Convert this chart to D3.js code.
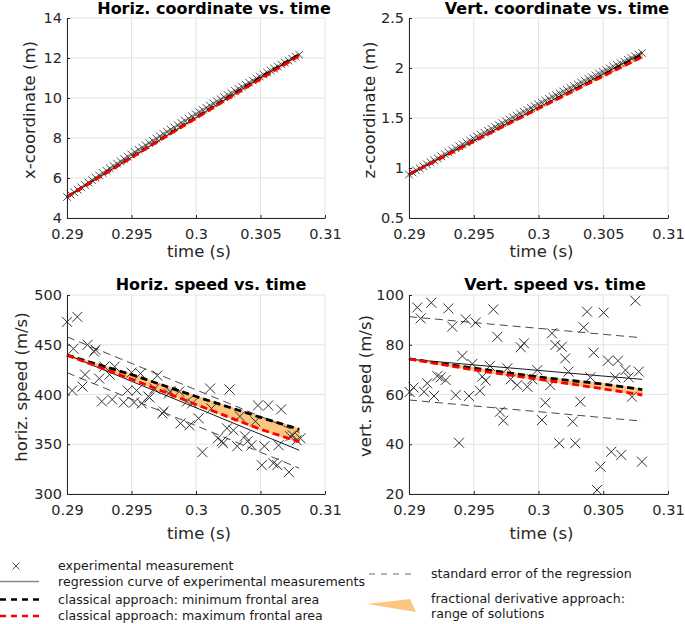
<!DOCTYPE html>
<html>
<head>
<meta charset="utf-8">
<script src="https://cdn.jsdelivr.net/npm/d3@7"></script>
<style>
body { margin: 0; background: #fff; }
text { font-family: "DejaVu Sans", sans-serif; fill: #262626; }
</style>
</head>
<body>
<div id="chart"></div>
<script>
// ---- data ----
var xTicks = [0.29, 0.295, 0.3, 0.305, 0.31];
var xTickLabels = ["0.29", "0.295", "0.3", "0.305", "0.31"];

// frame times of the tracked positions
var coordTime = [0.29000,0.29028,0.29055,0.29083,0.29111,0.29138,0.29166,0.29194,0.29222,0.29249,
  0.29277,0.29305,0.29332,0.29360,0.29388,0.29415,0.29443,0.29471,0.29498,0.29526,
  0.29554,0.29582,0.29609,0.29637,0.29665,0.29692,0.29720,0.29748,0.29775,0.29803,
  0.29831,0.29858,0.29886,0.29914,0.29942,0.29969,0.29997,0.30025,0.30052,0.30080,
  0.30108,0.30135,0.30163,0.30191,0.30218,0.30246,0.30274,0.30302,0.30329,0.30357,
  0.30385,0.30412,0.30440,0.30468,0.30495,0.30523,0.30551,0.30578,0.30606,0.30634,
  0.30662,0.30689,0.30717,0.30745,0.30772,0.30800];
var xCoord = [5.050,5.172,5.293,5.414,5.535,5.655,5.775,5.894,6.013,6.132,
  6.250,6.368,6.485,6.602,6.719,6.835,6.951,7.067,7.182,7.297,
  7.411,7.525,7.639,7.752,7.865,7.978,8.090,8.201,8.313,8.424,
  8.534,8.644,8.754,8.864,8.973,9.081,9.190,9.298,9.405,9.512,
  9.619,9.725,9.831,9.937,10.042,10.147,10.251,10.355,10.459,10.562,
  10.665,10.768,10.870,10.971,11.073,11.174,11.274,11.375,11.474,11.574,
  11.673,11.772,11.870,11.968,12.065,12.162];
var zCoord = [0.935,0.955,0.976,0.996,1.017,1.037,1.057,1.077,1.097,1.117,
  1.137,1.157,1.177,1.197,1.217,1.236,1.256,1.276,1.295,1.315,
  1.334,1.353,1.373,1.392,1.411,1.430,1.449,1.468,1.487,1.506,
  1.525,1.544,1.563,1.581,1.600,1.619,1.637,1.656,1.674,1.692,
  1.711,1.729,1.747,1.765,1.783,1.801,1.819,1.837,1.855,1.873,
  1.891,1.908,1.926,1.944,1.961,1.979,1.996,2.014,2.031,2.048,
  2.065,2.082,2.100,2.117,2.134,2.150];

var hSpeedTime = [0.2900,0.2904,0.2905,0.2908,0.2912,0.2914,0.2916,0.2921,0.2922,0.2925,
  0.2927,0.2929,0.2933,0.2935,0.2937,0.2944,0.2947,0.2950,0.2952,0.2954,
  0.2957,0.2958,0.2963,0.2964,0.2968,0.2970,0.2974,0.2975,0.2979,0.2980,
  0.2987,0.2988,0.2993,0.2995,0.2997,0.3002,0.3005,0.3011,0.3012,0.3017,
  0.3020,0.3021,0.3024,0.3026,0.3029,0.3032,0.3034,0.3038,0.3040,0.3043,
  0.3046,0.3048,0.3051,0.3053,0.3056,0.3060,0.3063,0.3064,0.3066,0.3072,
  0.3073,0.3075,0.3078,0.3081];
var hSpeed = [473,404,446,478,408,420,450,443,445,416,
  393,428,420,395,428,392,404,422,392,404,
  421,391,398,397,406,419,381,383,401,403,
  403,371,393,369,391,376,342,406,386,356,
  353,351,366,405,364,348,378,358,353,349,
  373,389,329,348,389,331,329,349,385,322,
  358,359,354,356];

var vSpeedTime = [0.29005,0.29035,0.29064,0.2909,0.29116,0.29141,0.29172,0.29193,0.29219,0.29245,
  0.29283,0.29304,0.29334,0.29361,0.29386,0.29412,0.29438,0.29463,0.29489,0.29515,
  0.29548,0.29566,0.29592,0.29625,0.29651,0.29682,0.29703,0.29728,0.29759,0.29785,
  0.29836,0.29863,0.29888,0.29914,0.29952,0.29991,0.30027,0.30053,0.30091,0.30104,
  0.3013,0.3016,0.3018,0.30206,0.30232,0.30264,0.30284,0.30323,0.30349,0.30375,
  0.304,0.30426,0.30452,0.30478,0.30503,0.30537,0.30562,0.30593,0.30614,0.30639,
  0.30671,0.30696,0.30722,0.30748,0.30774,0.30799];
var vSpeed = [61.0,62.8,95.0,90.6,61.1,64.5,96.9,59.4,67.4,66.9,
  65.8,94.6,87.3,59.8,40.6,75.5,90.2,59.4,72.3,88.9,
  61.5,67.2,65.6,71.5,94.2,83.2,53.1,49.5,70.5,66.1,
  63.8,79.0,80.6,63.1,66.1,69.8,49.7,56.7,63.8,84.6,
  79.9,40.4,79.2,74.5,69.2,49.1,40.4,57.1,87.0,93.3,
  66.9,76.8,21.6,31.0,92.9,73.6,37.0,66.9,73.6,35.7,
  69.8,66.9,59.1,97.7,69.2,33.0];

// fitted / model curves
var curveTime = [0.29, 0.295, 0.3, 0.305, 0.308];
var xReg = [5.05, 7.03, 9.02, 11.00, 12.16];
var xMinArea = [5.05, 7.04, 9.03, 11.02, 12.17];
var xMaxArea = [5.05, 7.02, 8.99, 10.95, 12.10];
var zReg = [0.935, 1.272, 1.607, 1.940, 2.150];
var zMinArea = [0.935, 1.270, 1.600, 1.928, 2.130];
var zMaxArea = [0.935, 1.266, 1.594, 1.918, 2.110];
var hReg = [440, 413.3, 386.7, 360, 344];
var hUpper = [458, 431.3, 404.7, 378, 362];
var hLower = [422, 395.3, 368.7, 342, 326];
var hMinArea = [439.5, 420, 398, 377, 365];
var hMaxArea = [439.5, 415.5, 390, 365, 352.5];
var vReg = [74.2, 71.9, 69.7, 67.4, 66.1];
var vUpper = [91.3, 88.9, 86.6, 84.2, 82.8];
var vLower = [57.8, 55.4, 53.1, 50.7, 49.3];
var vMinArea = [74.3, 70.6, 67.0, 64.2, 62.0];
var vMaxArea = [74.3, 69.9, 66.1, 62.3, 59.8];

var orange = "#fdc57f";

var w = 685, h = 624;
var svg = d3.select("#chart").append("svg")
    .attr("width", w)
    .attr("height", h);

function crossPath(s) {
  return "M" + (-s) + "," + (-s) + "L" + s + "," + s + "M" + (-s) + "," + s + "L" + s + "," + (-s);
}

function panel(p) {
  var xscale = d3.scaleLinear().domain([0.29, 0.31]).range([p.left, p.right]);
  var yscale = d3.scaleLinear().domain(p.yDomain).range([p.bottom, p.top]);
  var g = svg.append("g");

  // grid
  g.selectAll(".vg").data(xTicks).enter().append("line")
      .attr("x1", function(d) { return xscale(d); })
      .attr("x2", function(d) { return xscale(d); })
      .attr("y1", p.top).attr("y2", p.bottom)
      .attr("stroke", "#e3e3e3").attr("stroke-width", 1);
  g.selectAll(".hg").data(p.yTicks).enter().append("line")
      .attr("y1", function(d) { return yscale(d); })
      .attr("y2", function(d) { return yscale(d); })
      .attr("x1", p.left).attr("x2", p.right)
      .attr("stroke", "#e3e3e3").attr("stroke-width", 1);

  var line = d3.line()
      .x(function(d) { return xscale(d[0]); })
      .y(function(d) { return yscale(d[1]); });
  function pts(vals) { return curveTime.map(function(t, i) { return [t, vals[i]]; }); }

  // range of fractional-derivative solutions
  var band = pts(p.minArea).concat(pts(p.maxArea).reverse());
  g.append("path").attr("d", line(band) + "Z")
      .attr("fill", orange).attr("stroke", orange).attr("stroke-width", 2)
      .attr("stroke-linejoin", "round");

  // scatter
  g.selectAll(".mk").data(p.time).enter().append("path")
      .attr("transform", function(d, i) {
        return "translate(" + xscale(d) + "," + yscale(p.vals[i]) + ")";
      })
      .attr("d", crossPath(p.mk))
      .attr("stroke", p.mkColor).attr("stroke-width", p.mkWidth).attr("fill", "none");

  if (p.upper) {
    [p.upper, p.lower].forEach(function(arr) {
      g.append("path").attr("d", line(pts(arr)))
          .attr("fill", "none").attr("stroke", "#1a1a1a").attr("stroke-width", 0.8)
          .attr("stroke-dasharray", "8,5");
    });
  }
  g.append("path").attr("d", line(pts(p.reg)))
      .attr("fill", "none").attr("stroke", "#1a1a1a").attr("stroke-width", 1);
  g.append("path").attr("d", line(pts(p.minArea)))
      .attr("fill", "none").attr("stroke", "#000").attr("stroke-width", 2.8)
      .attr("stroke-dasharray", "7,4");
  g.append("path").attr("d", line(pts(p.maxArea)))
      .attr("fill", "none").attr("stroke", "#ff0000").attr("stroke-width", 2.8)
      .attr("stroke-dasharray", "7,4");

  // axes
  var xaxis = d3.axisBottom(xscale).tickValues(xTicks)
      .tickFormat(function(d, i) { return xTickLabels[i]; })
      .tickSizeInner(-3).tickSizeOuter(0).tickPadding(11);
  var yaxis = d3.axisLeft(yscale).tickValues(p.yTicks)
      .tickFormat(function(d, i) { return p.yTickLabels[i]; })
      .tickSizeInner(-3).tickSizeOuter(0).tickPadding(5);
  var gx = g.append("g").attr("transform", "translate(0," + p.bottom + ")").call(xaxis);
  var gy = g.append("g").attr("transform", "translate(" + p.left + ",0)").call(yaxis);
  [gx, gy].forEach(function(a) {
    a.select(".domain").attr("stroke", "#262626");
    a.selectAll(".tick line").attr("stroke", "#262626");
    a.selectAll("text").attr("font-family", "DejaVu Sans").attr("font-size", 14.5).attr("fill", "#262626");
  });

  svg.append("text").attr("x", p.titleX).attr("y", p.titleY)
      .attr("text-anchor", "middle").attr("font-size", 16).attr("font-weight", "bold")
      .style("fill", "#000").text(p.title);
  svg.append("text").attr("x", (p.left + p.right) / 2 + 3).attr("y", p.xlabY)
      .attr("text-anchor", "middle").attr("font-size", 16.5).text("time (s)");
  svg.append("text")
      .attr("transform", "translate(" + p.ylabX + "," + p.ylabY + ") rotate(-90)")
      .attr("text-anchor", "middle").attr("dy", "0.35em").attr("font-size", 16.5)
      .text(p.ylabel);
}

panel({ left: 67, right: 325, top: 18, bottom: 218,
  yDomain: [4, 14], yTicks: [4, 6, 8, 10, 12, 14], yTickLabels: ["4", "6", "8", "10", "12", "14"],
  time: coordTime, vals: xCoord, mk: 3.8, mkColor: "#3a3a3a", mkWidth: 0.9,
  reg: xReg, minArea: xMinArea, maxArea: xMaxArea,
  title: "Horiz. coordinate vs. time", titleX: 214, titleY: 13.5,
  xlabY: 257, ylabX: 29, ylabY: 110, ylabel: "x-coordinate (m)" });

panel({ left: 409, right: 668, top: 18, bottom: 218,
  yDomain: [0.5, 2.5], yTicks: [0.5, 1, 1.5, 2, 2.5], yTickLabels: ["0.5", "1", "1.5", "2", "2.5"],
  time: coordTime, vals: zCoord, mk: 3.8, mkColor: "#3a3a3a", mkWidth: 0.9,
  reg: zReg, minArea: zMinArea, maxArea: zMaxArea,
  title: "Vert. coordinate vs. time", titleX: 557, titleY: 13.5,
  xlabY: 257, ylabX: 369, ylabY: 110, ylabel: "z-coordinate (m)" });

panel({ left: 67, right: 325, top: 295, bottom: 494,
  yDomain: [300, 500], yTicks: [300, 350, 400, 450, 500], yTickLabels: ["300", "350", "400", "450", "500"],
  time: hSpeedTime, vals: hSpeed, mk: 5, mkColor: "#333", mkWidth: 1,
  reg: hReg, upper: hUpper, lower: hLower, minArea: hMinArea, maxArea: hMaxArea,
  title: "Horiz. speed vs. time", titleX: 211, titleY: 290,
  xlabY: 539, ylabX: 21, ylabY: 387, ylabel: "horiz. speed (m/s)" });

panel({ left: 409, right: 668, top: 295, bottom: 494,
  yDomain: [20, 100], yTicks: [20, 40, 60, 80, 100], yTickLabels: ["20", "40", "60", "80", "100"],
  time: vSpeedTime, vals: vSpeed, mk: 5, mkColor: "#333", mkWidth: 1,
  reg: vReg, upper: vUpper, lower: vLower, minArea: vMinArea, maxArea: vMaxArea,
  title: "Vert. speed vs. time", titleX: 555, titleY: 290,
  xlabY: 539, ylabX: 365, ylabY: 386, ylabel: "vert. speed (m/s)" });

// ---- legend ----
var lg = svg.append("g");
lg.append("path").attr("transform", "translate(16,566)").attr("d", crossPath(3.5))
    .attr("stroke", "#555").attr("stroke-width", 1).attr("fill", "none");
lg.append("line").attr("x1", 0).attr("x2", 39).attr("y1", 581.5).attr("y2", 581.5)
    .attr("stroke", "#888").attr("stroke-width", 1.5);
lg.append("line").attr("x1", 0).attr("x2", 39).attr("y1", 599.5).attr("y2", 599.5)
    .attr("stroke", "#000").attr("stroke-width", 2.5).attr("stroke-dasharray", "6,5");
lg.append("line").attr("x1", 0).attr("x2", 39).attr("y1", 616).attr("y2", 616)
    .attr("stroke", "#ff0000").attr("stroke-width", 2.5).attr("stroke-dasharray", "6,5");
lg.append("line").attr("x1", 369).attr("x2", 414).attr("y1", 574).attr("y2", 574)
    .attr("stroke", "#444").attr("stroke-width", 0.8).attr("stroke-dasharray", "6,6");
lg.append("path").attr("d", "M367,604L410,599L416,612Z").attr("fill", orange);

var legendText = [
  ["experimental measurement", 58, 570],
  ["regression curve of experimental measurements", 58, 586],
  ["classical approach: minimum frontal area", 58, 604],
  ["classical approach: maximum frontal area", 58, 620],
  ["standard error of the regression", 431, 578],
  ["fractional derivative approach:", 431, 602.5],
  ["range of solutions", 431, 617.5]
];
lg.selectAll(".lt").data(legendText).enter().append("text")
    .attr("x", function(d) { return d[1]; })
    .attr("y", function(d) { return d[2]; })
    .attr("font-size", 12.6).style("fill", "#1a1a1a")
    .text(function(d) { return d[0]; });
</script>
</body>
</html>
